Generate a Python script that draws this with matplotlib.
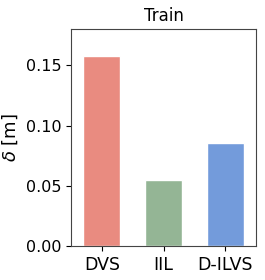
import matplotlib
matplotlib.use("Agg")
import matplotlib.pyplot as plt

categories = ["DVS", "IIL", "D-ILVS"]
values = [0.1573, 0.0545, 0.0857]
colors = ["#E98B80", "#94B595", "#739BDB"]

fig, ax = plt.subplots(figsize=(2.65, 2.8), dpi=100)
x = list(range(len(categories)))
ax.bar(x, values, width=0.6, color=colors, edgecolor="white", linewidth=1.0)
ax.set_xticks(x)
ax.set_xticklabels(categories, fontsize=12.5)
ax.set_xlim(-0.5, 2.5)
ax.set_ylim(0, 0.18)
ax.set_yticks([0.0, 0.05, 0.10, 0.15])
ax.tick_params(axis="y", labelsize=11.5)
ax.set_ylabel(r"$\delta$ [m]", fontsize=13)
ax.set_title("Train", fontsize=12)
for s in ax.spines.values():
    s.set_color("#444444")
fig.subplots_adjust(left=0.268, right=0.966, top=0.896, bottom=0.121)
fig.savefig("out.png", dpi=100)
